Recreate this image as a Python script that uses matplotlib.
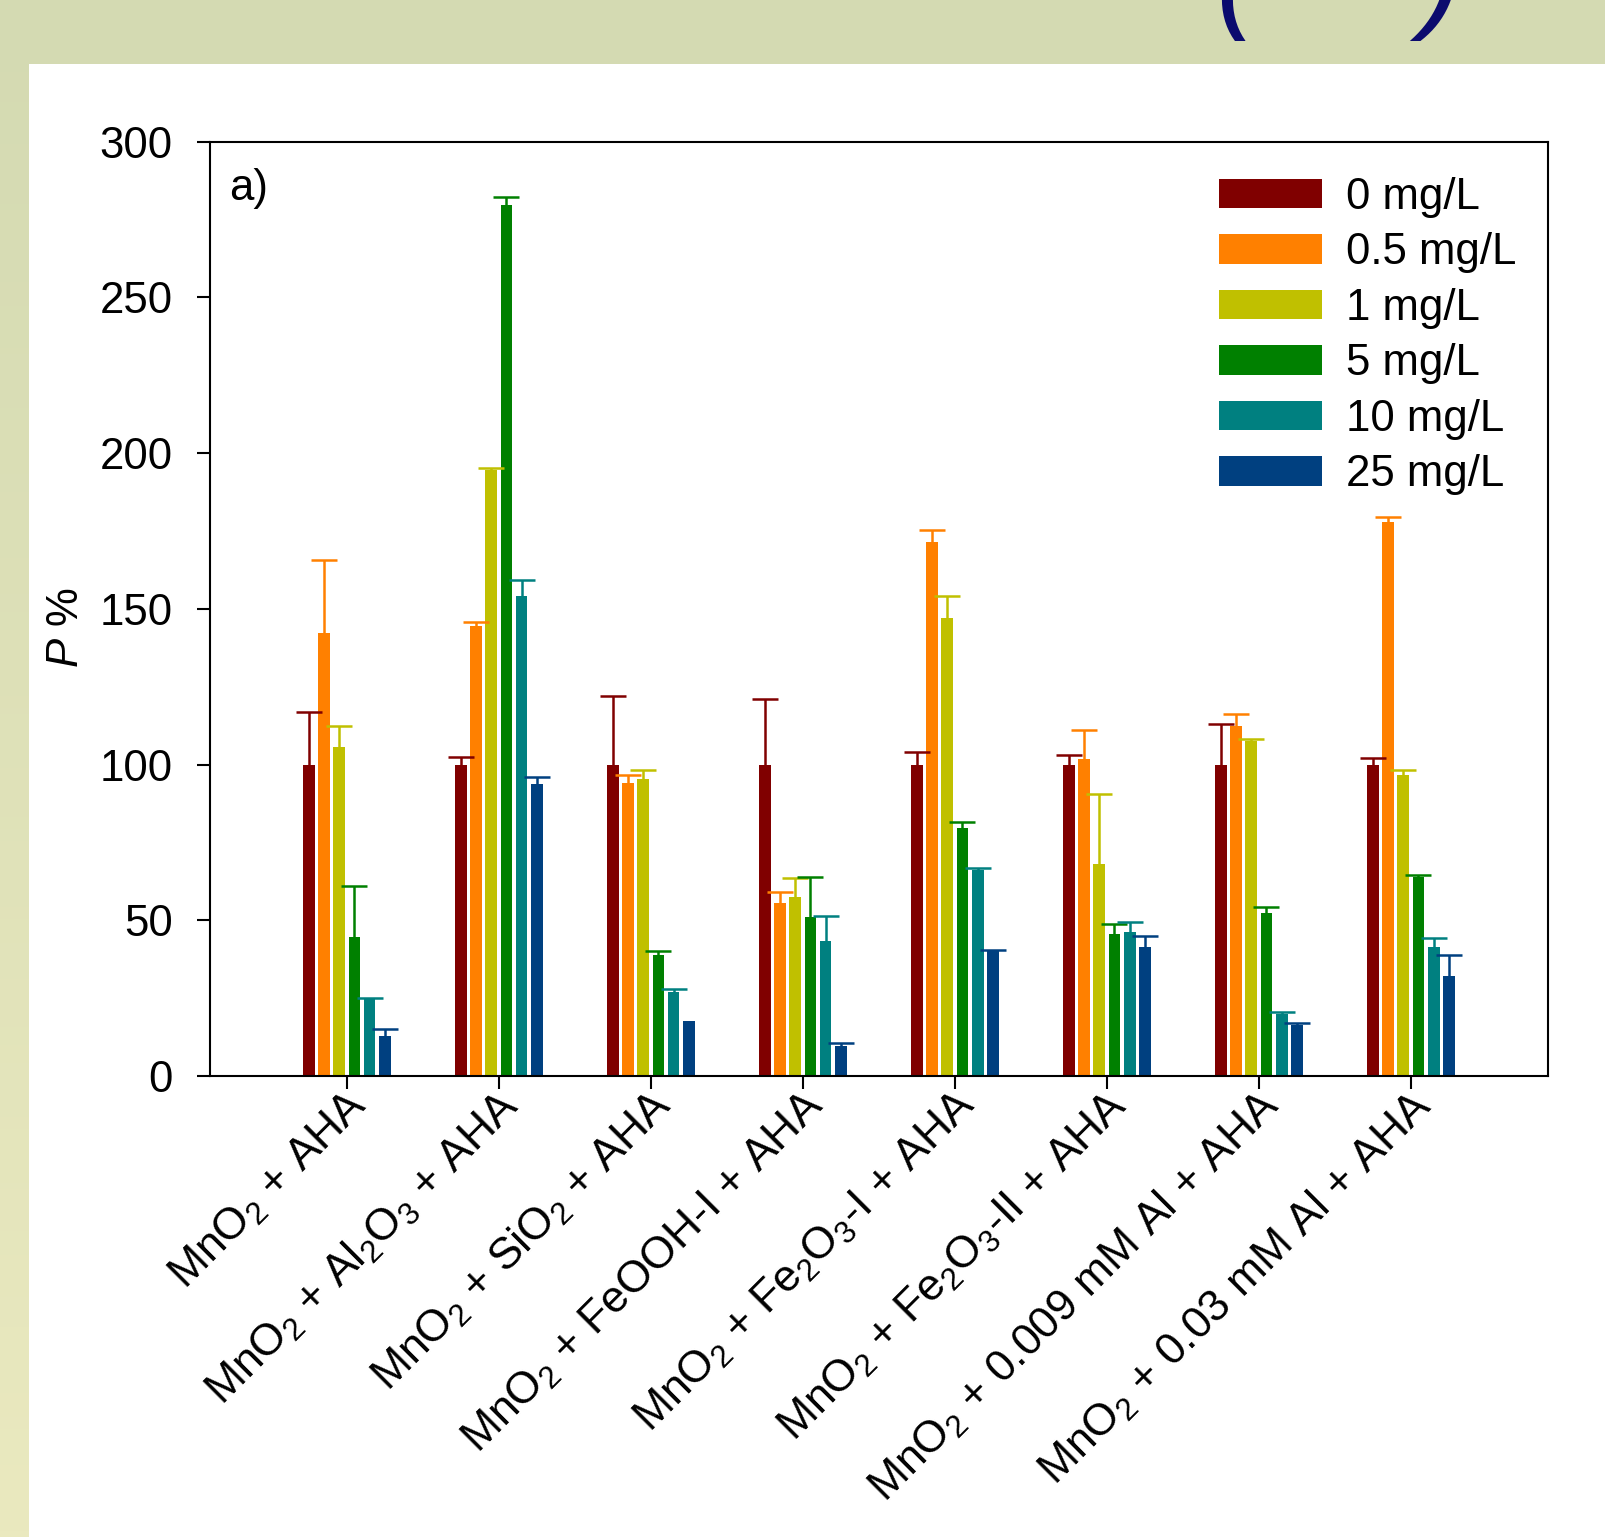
import numpy as np
import matplotlib
matplotlib.use("Agg")
import matplotlib.pyplot as plt
from matplotlib.patches import Patch, Rectangle
from matplotlib.transforms import ScaledTranslation

plt.rcParams['font.family'] = ['Liberation Sans', 'DejaVu Sans']
plt.rcParams['mathtext.fontset'] = 'custom'
plt.rcParams['mathtext.rm'] = 'Liberation Sans'
plt.rcParams['mathtext.it'] = 'Liberation Sans:italic'
plt.rcParams['mathtext.bf'] = 'Liberation Sans:bold'

# ---- data -------------------------------------------------------------
samples = [
    r'MnO$_2$ + AHA',
    r'MnO$_2$ + Al$_2$O$_3$ + AHA',
    r'MnO$_2$ + SiO$_2$ + AHA',
    r'MnO$_2$ + FeOOH-I + AHA',
    r'MnO$_2$ + Fe$_2$O$_3$-I + AHA',
    r'MnO$_2$ + Fe$_2$O$_3$-II + AHA',
    r'MnO$_2$ + 0.009 mM Al + AHA',
    r'MnO$_2$ + 0.03 mM Al + AHA',
]
doses = ['0 mg/L', '0.5 mg/L', '1 mg/L', '5 mg/L', '10 mg/L', '25 mg/L']

p_0 = [100, 100, 100, 100, 100, 100, 100, 100]
p_05 = [142.3, 144.4, 94.0, 55.5, 171.5, 101.8, 112.5, 177.8]
p_1 = [105.6, 194.6, 95.5, 57.5, 147.0, 68.0, 107.5, 96.5]
p_5 = [44.5, 279.6, 39.0, 51.0, 79.5, 45.5, 52.3, 63.8]
p_10 = [24.6, 154.0, 27.0, 43.5, 66.3, 46.3, 19.8, 41.3]
p_25 = [13.0, 93.6, 17.5, 9.5, 40.0, 41.3, 16.3, 32.0]

err_0 = [17.0, 2.5, 22.0, 21.0, 4.0, 3.0, 13.0, 2.2]
err_05 = [23.4, 1.4, 2.7, 3.5, 3.7, 9.2, 3.7, 1.6]
err_1 = [6.7, 0.5, 2.7, 6.0, 7.0, 22.6, 0.7, 1.7]
err_5 = [16.4, 2.6, 1.0, 13.0, 2.0, 3.4, 1.9, 0.6]
err_10 = [0.6, 5.3, 1.0, 8.0, 0.6, 3.2, 0.6, 2.9]
err_25 = [2.0, 2.3, np.nan, 1.0, 0.6, 3.5, 0.6, 6.8]

yticks = [0, 50, 100, 150, 200, 250, 300]

series = [p_0, p_05, p_1, p_5, p_10, p_25]
errors = [err_0, err_05, err_1, err_5, err_10, err_25]
colors = ['#800000', '#FF8000', '#C0C000', '#008000', '#008080', '#004080']

# ---- figure & slide background ---------------------------------------
W, H, DPI = 1605, 1537, 100
fig = plt.figure(figsize=(W / DPI, H / DPI), dpi=DPI)

bg = fig.add_axes([0, 0, 1, 1], zorder=-10)
grad = np.linspace(0, 1, 256)[:, None]
top_c = np.array([0xD4, 0xDA, 0xB2]) / 255
bot_c = np.array([0xEA, 0xE9, 0xBF]) / 255
img = top_c[None, None, :] * (1 - grad[:, :, None]) + bot_c[None, None, :] * grad[:, :, None]
bg.imshow(img, aspect='auto', extent=[0, 1, 0, 1], origin='upper')
bg.add_patch(Rectangle((29 / W, 0), 1 - 29 / W, 1 - 64 / H,
                       transform=bg.transAxes, facecolor='white', edgecolor='none'))
bg.set_xlim(0, 1)
bg.set_ylim(0, 1)
bg.axis('off')

# heading brackets running off the top edge
for xp, ch in [(1236, '('), (1442, ')')]:
    fig.text(xp / W, 1 - 15 / H, ch, fontsize=90, fontstyle='italic',
             color='#0B0B6E', ha='center', va='baseline')

# ---- main axes --------------------------------------------------------
AX_L, AX_R, AX_T, AX_B = 210, 1547.7, 141.7, 1076
ax = fig.add_axes([AX_L / W, 1 - AX_B / H, (AX_R - AX_L) / W, (AX_B - AX_T) / H])

x = np.arange(1, len(samples) + 1)
step = 0.1
bw = 0.077
n = len(series)
for k, (vals, errs, c, lab) in enumerate(zip(series, errors, colors, doses)):
    xs = x + (k - (n - 1) / 2) * step
    vals = np.asarray(vals, float)
    errs = np.asarray(errs, float)
    ax.bar(xs, vals, width=bw, color=c, edgecolor='none', label=lab, zorder=2)
    eb = ax.errorbar(xs, vals, yerr=[np.zeros_like(errs), errs], fmt='none',
                     ecolor=c, elinewidth=1.8, capsize=9.6, capthick=1.8, zorder=3)
    # one-sided bars: keep only the upper caps
    eb[1][0].set_visible(False)

ax.set_xlim(0.1, 8.9)
ax.set_ylim(0, 300)
ax.set_yticks(yticks)
ax.set_yticklabels([str(t) for t in yticks])
ax.set_xticks(x)
ax.set_xticklabels([])

# slanted category labels, right end placed just below each tick
lab_trans = ax.get_xaxis_transform() + ScaledTranslation(14 / DPI, -23 / DPI, fig.dpi_scale_trans)
for xi, s in zip(x, samples):
    ax.text(xi, 0, s, transform=lab_trans, rotation=45, ha='right', va='center',
            rotation_mode='anchor', fontsize=32, clip_on=False)

for sp in ax.spines.values():
    sp.set_linewidth(1.5)
ax.tick_params(axis='both', direction='out', length=9.4, width=1.5,
               labelsize=31.5, top=False, right=False)
ax.tick_params(axis='y', pad=17.5)

ax.set_ylabel(r'$P$ %', fontsize=31.5, va='center')
ax.yaxis.set_label_coords(-(AX_L - 67) / (AX_R - AX_L), (AX_B - 628) / (AX_B - AX_T))

ax.text(19 / (AX_R - AX_L), 1 - 26 / (AX_B - AX_T), 'a)', transform=ax.transAxes,
        fontsize=31.5, ha='left', va='top')

handles = [Patch(facecolor=c, edgecolor='none') for c in colors]
fs_leg = 31.5
em = fs_leg * DPI / 72
leg = ax.legend(handles, doses, loc='upper left',
                bbox_to_anchor=((1219.3 - AX_L) / (AX_R - AX_L), 1 - (177 - AX_T) / (AX_B - AX_T)),
                frameon=False, fontsize=fs_leg, handlelength=103 / em, handleheight=29 / em,
                handletextpad=24 / em, labelspacing=0.33, borderpad=0, borderaxespad=0)

fig.savefig('out.png', dpi=DPI)
